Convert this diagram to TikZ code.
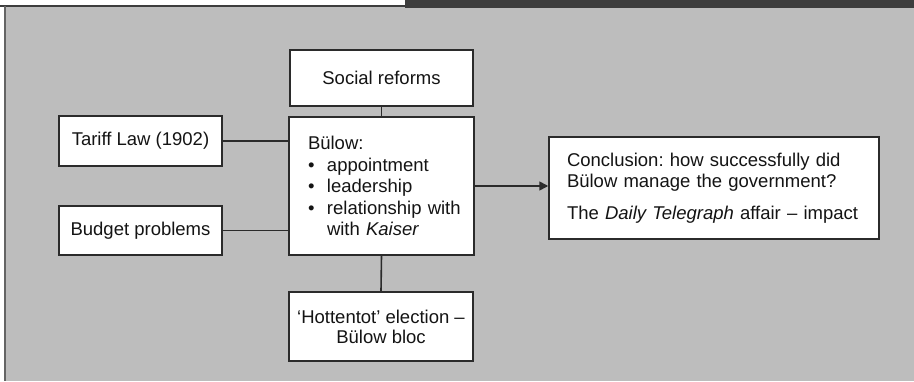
\documentclass[tikz,border=0pt]{standalone}
\usepackage{fontspec}
\setmainfont{Liberation Sans}
\usetikzlibrary{arrows.meta}
\definecolor{bggrey}{HTML}{BDBDBD}
\definecolor{bardark}{HTML}{3D3D3D}
\definecolor{edge}{HTML}{2B2B2B}
\begin{document}
\frenchspacing
\begin{tikzpicture}[x=1pt,y=-1pt,
  box/.style={draw=edge, line width=1.5pt, fill=white, inner sep=0pt,
    font=\fontsize{18.5}{21.5}\selectfont, text=black!92},
  link/.style={draw=edge, line width=1.6pt}]
\useasboundingbox (0,0) rectangle (914,381);
% background
\fill[white] (0,0) rectangle (914,381);
\fill[bggrey] (5,7) rectangle (914,381);
\fill[bardark] (405,0) rectangle (914,8);
\draw[bardark, line width=2.5pt] (0,6) -- (405,6);
\draw[bardark!80, line width=2pt] (5,6) -- (5,381);
% boxes
\node[box, minimum width=183pt, minimum height=56pt] (social) at (381.5,78) {Social reforms};
\node[box, minimum width=163pt, minimum height=50pt] (tariff) at (140.5,141) {Tariff Law (1902)};
\node[box, minimum width=163pt, minimum height=49pt] (budget) at (140.5,230.5) {Budget problems};
\node[box, minimum width=185pt, minimum height=138pt, text width=147pt, align=left] (bulow) at (381.5,186)
  {Bülow:\\
   \makebox[19pt][l]{•}appointment\\
   \makebox[19pt][l]{•}leadership\\
   \mbox{\makebox[19pt][l]{•}relationship with}\\
   \hspace*{19pt}with \textit{Kaiser}};
\node[box, minimum width=184pt, minimum height=69pt, align=center, font=\fontsize{18.5}{20}\selectfont] (hott) at (381,326.5)
  {‘Hottentot’ election –\\Bülow bloc};
\node[box, minimum width=330pt, minimum height=102pt, text width=294pt, align=left] (concl) at (714,188)
  {Conclusion: how successfully did\\
   Bülow manage the government?\\[10pt]
   The \textit{Daily Telegraph} affair – impact};
% connectors
\draw[link] (social.south) -- (bulow.north);
\draw[link] (bulow.south) -- (hott.north);
\draw[link] (tariff.east) -- (tariff.east -| bulow.west);
\draw[link] (budget.east) -- (budget.east -| bulow.west);
\draw[link, -{Triangle[length=9pt,width=9pt]}] (bulow.east) -- (bulow.east -| concl.west);
\end{tikzpicture}
\end{document}
